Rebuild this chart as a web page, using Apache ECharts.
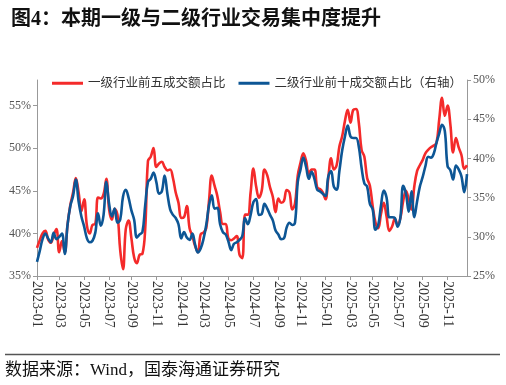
<!DOCTYPE html>
<html><head><meta charset="utf-8">
<script src="https://cdn.jsdelivr.net/npm/echarts@6/dist/echarts.min.js"></script>
<style>html,body{margin:0;padding:0;background:#fff}#c{width:506px;height:385px}</style>
</head><body><div id="c"></div>
<script>
// weekly dates
const weeks = [];
(function(){ let d = new Date(Date.UTC(2023,0,6)); const end = Date.UTC(2025,11,27);
  while (d.getTime() <= end) { weeks.push(d.toISOString().slice(0,10)); d = new Date(d.getTime()+7*86400000); } })();

const seriesNames = ['一级行业前五成交额占比', '二级行业前十成交额占比（右轴）'];
const leftTicks = [35, 40, 45, 50, 55];
const rightTicks = [25, 30, 35, 40, 45, 50];

const top5Level1 = [38.3,39.2,40.0,40.3,39.3,38.9,39.8,40.5,37.8,39.1,37.8,41.0,43.3,44.8,46.5,44.8,42.6,44.0,40.9,40.0,
41.0,41.1,44.2,44.1,44.6,46.4,42.8,41.6,42.9,42.2,38.0,35.8,40.5,41.5,39.5,37.2,36.5,37.5,37.6,40.5,
48.5,49.0,50.0,47.8,48.2,48.4,47.8,47.4,47.5,46.5,44.8,43.6,41.8,41.9,43.2,40.6,39.7,38.5,37.8,39.9,
40.1,40.6,43.8,46.8,45.6,44.4,42.5,41.1,41.1,39.4,39.2,39.4,39.7,37.5,37.1,42.2,42.2,44.8,47.6,45.5,
44.2,45.0,47.5,46.8,45.4,44.3,42.5,44.1,43.6,43.8,45.1,44.8,42.8,43.5,46.8,48.3,49.4,48.5,47.0,47.5,
47.5,45.4,45.2,44.8,44.0,46.5,48.8,47.5,48.0,50.2,51.4,53.2,54.5,53.0,54.5,54.6,53.0,49.8,49.0,46.5,
45.6,43.2,41.3,40.6,42.3,43.6,42.0,40.3,40.8,41.7,41.0,41.8,43.8,45.0,44.0,42.8,45.5,47.3,48.0,48.6,
49.4,49.8,50.1,50.3,50.6,53.4,55.9,53.8,55.0,52.8,49.5,51.2,50.1,49.2,47.6,48.0];

const top10Level2 = [26.8,28.2,29.7,30.4,29.8,29.3,30.5,29.7,30.0,30.4,27.8,31.5,33.9,35.2,37.3,34.5,32.6,31.3,29.8,29.3,
29.5,30.5,33.0,31.4,32.8,37.0,34.2,32.6,33.6,31.8,32.2,35.1,36.0,35.0,33.4,32.2,29.9,30.3,30.6,34.0,
37.0,37.4,38.2,37.0,35.5,35.8,37.8,35.5,33.5,32.8,32.4,31.6,29.8,30.6,29.9,29.6,30.4,29.0,28.0,28.5,
29.7,31.5,34.0,35.3,33.6,33.7,31.6,30.6,30.3,29.4,28.3,29.1,29.3,29.6,30.1,32.4,31.6,32.8,34.4,34.8,
32.8,32.9,34.2,33.6,32.8,32.1,30.8,30.3,29.7,29.8,31.2,31.8,31.5,31.8,37.0,38.6,40.1,38.9,37.4,38.3,
37.4,36.0,35.8,35.5,35.2,37.7,38.4,36.4,36.0,38.4,41.0,42.8,44.2,42.8,42.6,42.6,41.5,38.8,36.8,36.4,
34.2,33.5,30.9,31.5,34.0,35.9,35.0,32.5,32.5,32.4,31.3,32.5,36.5,35.5,33.2,35.8,32.5,34.5,36.4,37.6,
39.0,40.2,40.1,40.6,42.0,43.2,44.3,43.5,39.0,38.5,37.3,39.1,38.6,37.7,35.7,38.0];

const serif = '"Liberation Serif","Noto Sans CJK SC",serif';
function showLabel(i){
  const v = weeks[i]; const m = +v.slice(5,7);
  if (m % 2 !== 1) return false;
  return i === 0 || weeks[i-1].slice(5,7) !== v.slice(5,7);
}
const chart = echarts.init(document.getElementById('c'), null, {renderer:'canvas'});
chart.setOption({
  animation: false,
  backgroundColor: '#fff',
  title: { text: '图4：本期一级与二级行业交易集中度提升', left: 6, top: 5,
    textStyle: { fontFamily: serif, fontSize: 20, fontWeight: 'bold', color: '#111' } },
  legend: { left: 47, top: 72, itemGap: 13, itemWidth: 31, itemHeight: 3, icon: 'rect',
    textStyle: { fontFamily: serif, fontSize: 12.5, color: '#333', padding: [0,0,0,0] },
    data: seriesNames },
  grid: { left: 37, right: 39, top: 80, bottom: 109, containLabel: false },
  xAxis: { type: 'category', data: weeks, boundaryGap: false,
    axisLine: { lineStyle: { color: '#999', width: 1 } },
    axisTick: { interval: showLabel, length: 4, lineStyle: { color: '#999' } },
    axisLabel: { interval: showLabel, rotate: -90, formatter: v => v.slice(0,7),
      fontFamily: serif, fontSize: 14, color: '#333', margin: 5 } },
  yAxis: [
    { type: 'value', min: 35, max: 58, interval: 5, splitLine: { show: false },
      axisLine: { show: true, lineStyle: { color: '#999' } },
      axisTick: { show: true, length: 4, customValues: leftTicks, lineStyle: { color: '#999' } },
      axisLabel: { customValues: leftTicks, formatter: v => leftTicks.includes(v) ? v + '%' : '',
        fontFamily: serif, fontSize: 12, color: '#555', margin: 6 } },
    { type: 'value', min: 25, max: 50, interval: 5, splitLine: { show: false },
      axisLine: { show: true, lineStyle: { color: '#999' } },
      axisTick: { show: true, length: 4, lineStyle: { color: '#999' } },
      axisLabel: { formatter: v => v + '%', fontFamily: serif, fontSize: 12, color: '#555', margin: 6 } }
  ],
  series: [
    { name: seriesNames[0], type: 'line', yAxisIndex: 0, data: top5Level1, smooth: 0.4, showSymbol: false,
      color: '#F42A2A', lineStyle: { width: 2.6, color: '#F42A2A' } },
    { name: seriesNames[1], type: 'line', yAxisIndex: 1, data: top10Level2, smooth: 0.4, showSymbol: false,
      color: '#0D5695', lineStyle: { width: 2.6, color: '#0D5695' } }
  ],
  graphic: [
    { type: 'line', shape: { x1: 5, y1: 354.5, x2: 500, y2: 354.5 }, style: { stroke: '#555', lineWidth: 1.5 } },
    { type: 'text', left: 5, top: 362, style: { text: '数据来源：Wind，国泰海通证券研究', font: '17px ' + serif, fill: '#111' } }
  ]
});
</script></body></html>
